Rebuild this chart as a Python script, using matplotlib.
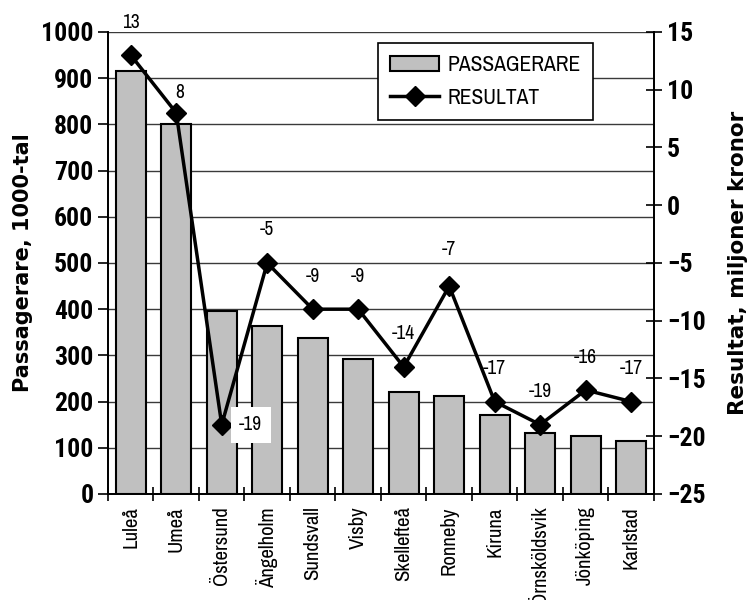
import numpy as np
import matplotlib.pyplot as plt
from matplotlib.ticker import FixedLocator, MultipleLocator

# data
cities = ['Luleå', 'Umeå', 'Östersund', 'Ängelholm', 'Sundsvall', 'Visby',
          'Skellefteå', 'Ronneby', 'Kiruna', 'Örnsköldsvik', 'Jönköping', 'Karlstad']
passagerare = [916, 801, 397, 363, 337, 293, 220, 213, 172, 133, 126, 115]
resultat = [13, 8, -19, -5, -9, -9, -14, -7, -17, -19, -16, -17]

narrow = ['Archivo Narrow', 'DejaVu Sans']
narrow_bold = ['Roboto Condensed', 'Archivo Narrow', 'DejaVu Sans']
plt.rcParams['font.family'] = narrow

fig = plt.figure(figsize=(7.52, 6), dpi=100)
ax1 = fig.add_axes([0.1436, 0.1767, 0.726, 0.77])
ax2 = ax1.twinx()

x = np.arange(len(cities))
bars = ax1.bar(x, passagerare, width=0.66, color='#c0c0c0', edgecolor='black',
               linewidth=1.5, label='PASSAGERARE', zorder=2)
ax1.set_ylim(0, 1000)
ax1.set_xlim(-0.5, len(cities) - 0.5)
ax1.yaxis.set_major_locator(MultipleLocator(100))
ax1.grid(axis='y', color='#3a3a3a', linewidth=1.0)
ax1.set_axisbelow(True)

ax1.set_xticks(x)
ax1.set_xticklabels(cities, rotation=90, fontsize=15)
ax1.tick_params(axis='x', which='major', length=0, pad=9)
ax1.xaxis.set_minor_locator(FixedLocator(np.arange(-0.5, len(cities), 1.0)))
ax1.tick_params(axis='x', which='minor', direction='inout', length=10, width=1.2)
ax1.tick_params(axis='y', direction='out', length=7, width=1.2, labelsize=18.5)
for lab in ax1.get_yticklabels():
    lab.set_fontweight('bold')
    lab.set_family(narrow_bold)
ax1.set_ylabel('Passagerare, 1000-tal', fontsize=15, fontweight='bold',
               family='DejaVu Sans', labelpad=6)

line, = ax2.plot(x, resultat, color='black', linewidth=2.5, marker='D',
                 markersize=10, label='RESULTAT', zorder=3)
ax2.set_ylim(-25, 15)
ax2.yaxis.set_major_locator(MultipleLocator(5))
ax2.tick_params(axis='y', direction='inout', length=12, width=1.2, labelsize=18.5)
for lab in ax2.get_yticklabels():
    lab.set_fontweight('bold')
    lab.set_family(narrow_bold)
ax2.set_ylabel('Resultat, miljoner kronor', fontsize=15.5, fontweight='bold',
               family='DejaVu Sans', labelpad=16)

for ax in (ax1, ax2):
    ax.spines['top'].set_visible(False)
    for s in ('left', 'right', 'bottom'):
        ax.spines[s].set_linewidth(1.3)

# data labels
offsets = {0: (0, 33), 1: (3, 20), 7: (0, 37)}
for i, v in enumerate(resultat):
    if i == 2:
        ax2.annotate(str(v), (x[i], v), xytext=(29, 0), textcoords='offset pixels',
                     ha='center', va='center', fontsize=14,
                     bbox=dict(facecolor='white', edgecolor='none', pad=6))
        continue
    dx, dy = offsets.get(i, (0, 33))
    ax2.annotate(str(v), (x[i], v), xytext=(dx, dy), textcoords='offset pixels',
                 ha='center', va='center', fontsize=14)

leg = ax2.legend([bars, line], ['PASSAGERARE', 'RESULTAT'], loc='upper left',
                 bbox_to_anchor=(0.4945, 0.976), borderaxespad=0, fontsize=15.5,
                 frameon=True, fancybox=False, edgecolor='black', framealpha=1,
                 handlelength=2.3, borderpad=0.55, labelspacing=0.6,
                 handletextpad=0.4)
leg.get_frame().set_linewidth(1.2)

fig.savefig('out.png', dpi=100)
